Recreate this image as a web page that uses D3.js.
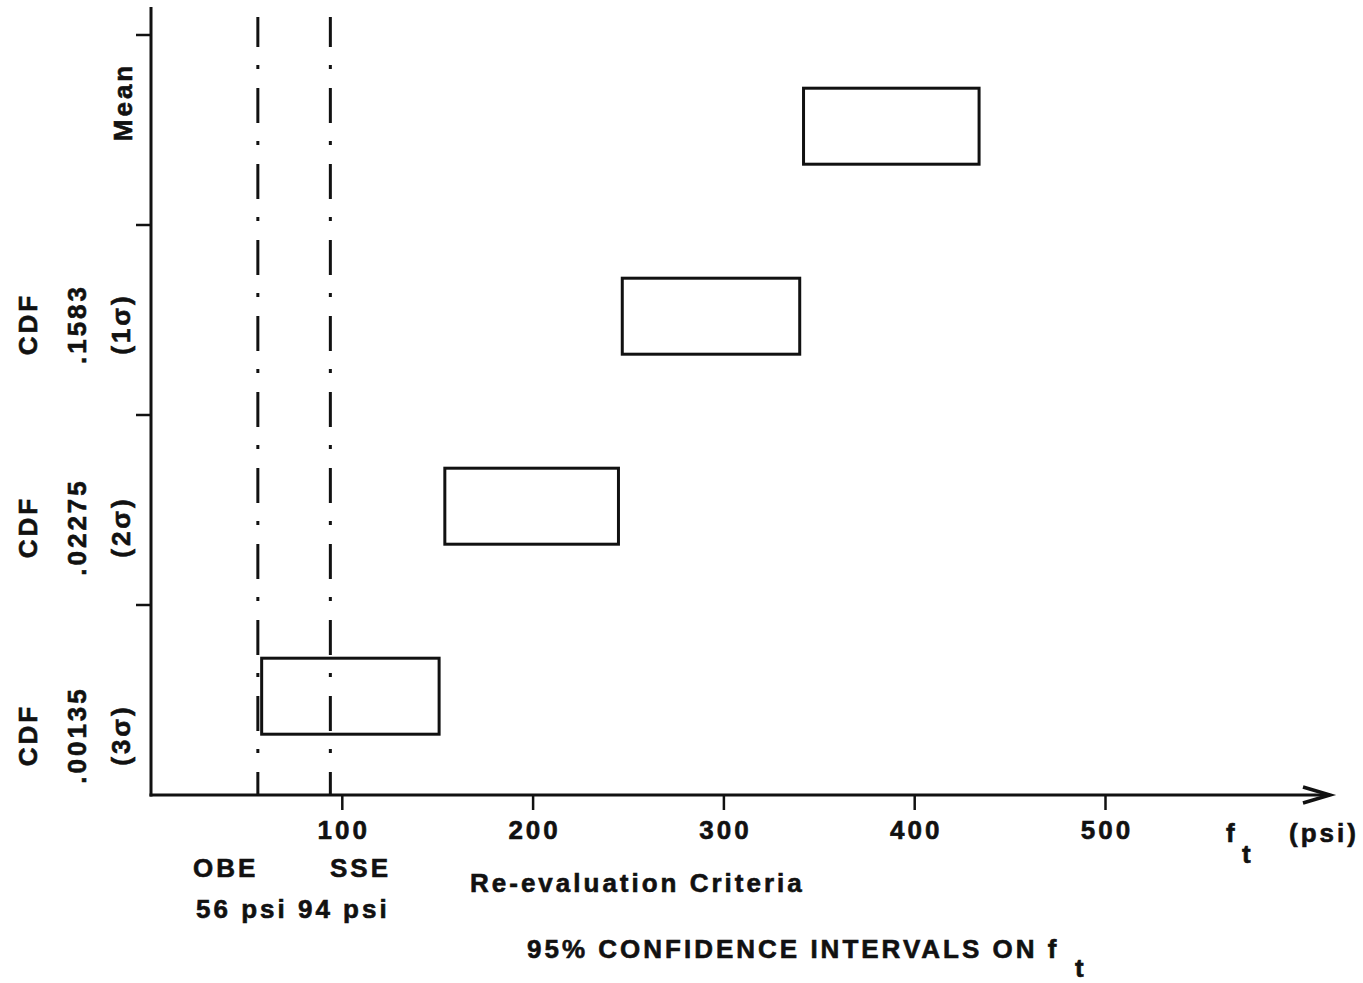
<!DOCTYPE html>
<html>
<head>
<meta charset="utf-8">
<script src="https://cdn.jsdelivr.net/npm/d3@7"></script>
<style>
  html, body { margin: 0; padding: 0; background: #fff; }
  svg { display: block; }
  text { font-family: 'Liberation Sans', Arial, sans-serif; font-weight: bold; fill: #111; stroke: #111; stroke-width: 0.6px; }
</style>
</head>
<body>
<div class="chart"></div>
<script>
const categories = ['Mean', '1σ', '2σ', '3σ'];
const cdfValues = ['', '.1583', '.02275', '.00135'];
const lowerBounds = [342, 247, 154, 58];
const upperBounds = [434, 340, 245, 151];
const criteriaNames = ['OBE', 'SSE'];
const criteriaValues = [56, 94];
const xTicks = [100, 200, 300, 400, 500];

window.addEventListener('DOMContentLoaded', () => {
  const width = 1363;
  const height = 983;
  const ink = '#111';
  const fontSize = 26;
  const spacing = '3px';

  const intervals = categories.map((c, i) => ({
    cat: c, cdf: cdfValues[i], lo: lowerBounds[i], hi: upperBounds[i],
  }));

  const svg = d3.select('.chart')
    .append('svg')
    .attr('width', width)
    .attr('height', height)
    .attr('viewBox', [0, 0, width, height]);

  const x = d3.scaleLinear().domain([0, 500]).range([151, 1105]);
  const y = d3.scaleBand().domain(categories).range([35, 795]);
  const bw = y.bandwidth();
  const axisY = y.range()[1];
  const axisEnd = 1330;

  // x axis: ticks + labels from d3, domain drawn by hand with arrow
  const xAxis = svg.append('g')
    .attr('transform', `translate(0,${axisY})`)
    .call(d3.axisBottom(x).tickValues(xTicks).tickSize(15).tickPadding(11).tickSizeOuter(0));
  xAxis.select('.domain').remove();
  xAxis.selectAll('.tick line').attr('stroke', ink).attr('stroke-width', 2.5);
  xAxis.selectAll('.tick text')
    .attr('fill', ink)
    .style('font-size', `${fontSize}px`)
    .style('font-family', "'Liberation Sans', Arial, sans-serif")
    .style('font-weight', 'bold')
    .style('letter-spacing', spacing)
    .attr('dx', '1.5px');

  svg.append('line')
    .attr('x1', x(0) - 1.5).attr('x2', axisEnd)
    .attr('y1', axisY).attr('y2', axisY)
    .attr('stroke', ink).attr('stroke-width', 3);
  svg.append('path')
    .attr('d', `M${axisEnd - 27},${axisY - 8}L${axisEnd},${axisY}L${axisEnd - 27},${axisY + 8}`)
    .attr('fill', 'none').attr('stroke', ink).attr('stroke-width', 3.5);

  // y axis
  svg.append('line')
    .attr('x1', x(0)).attr('x2', x(0))
    .attr('y1', 7).attr('y2', axisY + 1.5)
    .attr('stroke', ink).attr('stroke-width', 3);
  svg.append('g')
    .selectAll('line')
    .data(categories)
    .join('line')
    .attr('x1', x(0) - 15).attr('x2', x(0))
    .attr('y1', (d) => y(d)).attr('y2', (d) => y(d))
    .attr('stroke', ink).attr('stroke-width', 2.5);

  // confidence interval boxes
  svg.append('g')
    .selectAll('rect')
    .data(intervals)
    .join('rect')
    .attr('x', (d) => x(d.lo))
    .attr('width', (d) => x(d.hi) - x(d.lo))
    .attr('y', (d) => y(d.cat) + bw * 0.28)
    .attr('height', bw * 0.4)
    .attr('fill', 'none')
    .attr('stroke', ink)
    .attr('stroke-width', 3);

  // OBE / SSE dash-dot lines
  svg.append('g')
    .selectAll('line')
    .data(criteriaValues)
    .join('line')
    .attr('x1', (d) => x(d)).attr('x2', (d) => x(d))
    .attr('y1', 17).attr('y2', axisY)
    .attr('stroke', ink)
    .attr('stroke-width', 3)
    .attr('stroke-dasharray', '35,18,4,19')
    .attr('stroke-dashoffset', 5);

  // rotated category labels
  const labelShift = [-28, 4, 17, 35];
  const rows = svg.append('g')
    .style('font-size', `${fontSize}px`)
    .style('letter-spacing', spacing)
    .selectAll('g')
    .data(intervals)
    .join('g')
    .attr('transform', (d, i) => `translate(0,${y(d.cat) + bw / 2 + labelShift[i]})`);

  const vtext = (sel, xPos, fn) => sel.append('text')
    .attr('transform', `translate(${xPos},0) rotate(-90)`)
    .attr('text-anchor', 'middle')
    .text(fn);

  rows.filter((d) => d.cat === 'Mean').call((g) => vtext(g, 132, (d) => d.cat));
  const cdfRows = rows.filter((d) => d.cat !== 'Mean');
  cdfRows.call((g) => vtext(g, 37, () => 'CDF'));
  cdfRows.call((g) => vtext(g, 86, (d) => d.cdf));
  cdfRows.call((g) => vtext(g, 130, (d) => `(${d.cat})`));

  // bottom annotations
  const notes = svg.append('g')
    .style('font-size', `${fontSize}px`)
    .style('letter-spacing', spacing);

  notes.selectAll('text.crit')
    .data(criteriaNames)
    .join('text')
    .attr('class', 'crit')
    .attr('x', (d, i) => [193, 330][i])
    .attr('y', 877)
    .text((d) => d);
  notes.append('text')
    .attr('x', 196).attr('y', 918)
    .attr('xml:space', 'preserve')
    .text(criteriaValues.map((v) => `${v} psi`).join(' '));
  notes.append('text')
    .attr('x', 470).attr('y', 892)
    .text('Re-evaluation Criteria');

  notes.append('text')
    .attr('x', 527).attr('y', 958)
    .text('95% CONFIDENCE INTERVALS ON f');
  notes.append('text')
    .attr('x', 1075).attr('y', 977)
    .text('t');

  notes.append('text')
    .attr('x', 1226).attr('y', 842)
    .text('f');
  notes.append('text')
    .attr('x', 1242).attr('y', 863)
    .text('t');
  notes.append('text')
    .attr('x', 1289).attr('y', 842)
    .text('(psi)');
});
</script>
</body>
</html>
